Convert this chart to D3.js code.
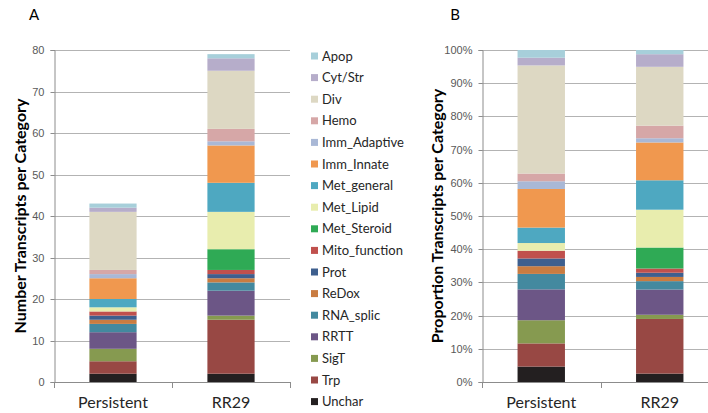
<!DOCTYPE html>
<html>
<head>
<meta charset="utf-8">
<script src="https://cdn.jsdelivr.net/npm/d3@7"></script>
<style>
  body { margin: 0; background: #fff; }
  svg { display: block; font-family: Lato, "Open Sans", sans-serif; }
  .tick text { fill: #595959; font-size: 11px; }
  .grid line { stroke: #b3b3b3; }
</style>
</head>
<body>
<div id="viz"></div>
<script>
// legend order (top to bottom); stacks are drawn bottom-up in reverse
const categories = ['Apop', 'Cyt/Str', 'Div', 'Hemo', 'Imm_Adaptive', 'Imm_Innate',
	'Met_general', 'Met_Lipid', 'Met_Steroid', 'Mito_function', 'Prot', 'ReDox',
	'RNA_splic', 'RRTT', 'SigT', 'Trp', 'Unchar'];
const colors = ['#a7cfda', '#b6adca', '#ddd8c3', '#d6a7a7', '#a9b8d6', '#f0984f',
	'#4ea8c1', '#e8edae', '#2faa55', '#c0504d', '#3e5f8e', '#c97c41',
	'#43899f', '#6c5686', '#869a50', '#984844', '#231f20'];
const groups = ['Persistent', 'RR29'];
const persistent = [1, 1, 14, 1, 1, 5, 2, 1, 0, 1, 1, 1, 2, 4, 3, 3, 2];
const rr29 = [1, 3, 14, 3, 1, 9, 7, 9, 5, 1, 1, 1, 2, 6, 1, 13, 2];
const countTicks = [0, 10, 20, 30, 40, 50, 60, 70, 80];
const pctTicks = [0, 0.1, 0.2, 0.3, 0.4, 0.5, 0.6, 0.7, 0.8, 0.9, 1];

const width = 708, height = 413;
const svg = d3.select('#viz').append('svg')
	.attr('width', width)
	.attr('height', height);

const rows = groups.map((g, i) => {
	const vals = i === 0 ? persistent : rr29;
	const row = { group: g };
	categories.forEach((c, j) => { row[c] = vals[j]; });
	return row;
});
const stackOrder = categories.slice().reverse();
const color = d3.scaleOrdinal().domain(categories).range(colors);

function drawPanel(opts) {
	const g = svg.append('g');
	const x = d3.scaleBand().domain(groups).range([opts.x0, opts.x1]).paddingInner(0.6).paddingOuter(0.3);
	const xTick = d3.scaleBand().domain(groups).range([opts.x0, opts.x1]);
	const y = d3.scaleLinear().domain(opts.domain).range([382, 50]);

	g.append('g').attr('class', 'grid')
		.selectAll('line').data(opts.ticks.slice(1)).join('line')
		.attr('x1', opts.x0).attr('x2', opts.x1)
		.attr('y1', (d) => Math.round(y(d)) + 0.5).attr('y2', (d) => Math.round(y(d)) + 0.5);

	const data = opts.normalize
		? rows.map((r) => {
			const tot = d3.sum(categories, (c) => r[c]);
			const o = { group: r.group };
			categories.forEach((c) => { o[c] = r[c] / tot; });
			return o;
		})
		: rows;
	const series = d3.stack().keys(stackOrder)(data);

	g.append('g').selectAll('g').data(series).join('g')
		.attr('fill', (d) => color(d.key))
		.selectAll('rect').data((d) => d).join('rect')
		.attr('x', (d) => x(d.data.group))
		.attr('width', x.bandwidth())
		.attr('y', (d) => y(d[1]))
		.attr('height', (d) => y(d[0]) - y(d[1]));

	const yAxis = g.append('g')
		.attr('transform', 'translate(' + (opts.x0 + 0.5) + ',0)')
		.call(d3.axisLeft(y).tickValues(opts.ticks).tickFormat(opts.format).tickSize(4).tickPadding(6));
	yAxis.select('.domain').attr('stroke', '#8c8c8c');
	yAxis.selectAll('.tick line').attr('stroke', '#8c8c8c');
	yAxis.selectAll('.tick').attr('transform', (d) => 'translate(0,' + (Math.round(y(d)) + 0.5) + ')');

	// category axis: ticks at band boundaries
	g.append('line')
		.attr('x1', opts.x0).attr('x2', opts.x1)
		.attr('y1', 382.5).attr('y2', 382.5)
		.attr('stroke', '#8c8c8c');
	const bounds = groups.map((d) => xTick(d)).concat([xTick(groups[1]) + xTick.bandwidth()]);
	g.selectAll('.ctick').data(bounds).join('line')
		.attr('x1', (d) => Math.round(d) + 0.5).attr('x2', (d) => Math.round(d) + 0.5)
		.attr('y1', 382).attr('y2', 388)
		.attr('stroke', '#8c8c8c');
	g.selectAll('.clabel').data(groups).join('text')
		.attr('x', (d) => x(d) + x.bandwidth() / 2)
		.attr('y', 408)
		.attr('text-anchor', 'middle')
		.attr('font-size', 16)
		.attr('fill', '#262626')
		.text((d) => d);

	g.append('text')
		.attr('transform', 'translate(' + opts.titleX + ',216) rotate(-90)')
		.attr('text-anchor', 'middle')
		.attr('font-size', 16)
		.attr('font-weight', 'bold')
		.attr('fill', '#000')
		.text(opts.title);

	g.append('text')
		.attr('x', opts.letterX).attr('y', 20)
		.attr('text-anchor', 'middle')
		.attr('font-size', 15)
		.attr('fill', '#000')
		.text(opts.letter);
}

drawPanel({
	x0: 54, x1: 290, domain: [0, 80], ticks: countTicks, format: d3.format('d'),
	title: 'Number Transcripts per Category', titleX: 26, letter: 'A', letterX: 34
});
drawPanel({
	x0: 482, x1: 719, domain: [0, 1], ticks: pctTicks, format: d3.format('.0%'), normalize: true,
	title: 'Proportion Transcripts per Category', titleX: 443, letter: 'B', letterX: 455
});

const legend = svg.append('g').attr('transform', 'translate(311,56)');
const item = legend.selectAll('g').data(categories).join('g')
	.attr('transform', (d, i) => 'translate(0,' + (i * 21.6) + ')');
item.append('rect')
	.attr('x', 0).attr('y', -3.5)
	.attr('width', 7).attr('height', 7)
	.attr('fill', (d) => color(d));
item.append('text')
	.attr('x', 11).attr('y', 0)
	.attr('dy', '0.35em')
	.attr('font-size', 13)
	.attr('fill', '#262626')
	.text((d) => d);
</script>
</body>
</html>
